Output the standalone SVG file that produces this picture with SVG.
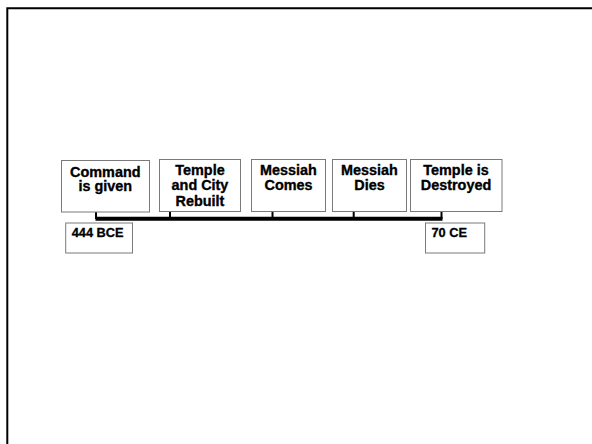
<svg xmlns="http://www.w3.org/2000/svg" width="592" height="444" viewBox="0 0 592 444">
<style>
.box{fill:#fff;stroke:#7a7a7a;stroke-width:1}
.t{font-family:"Liberation Sans",Arial,sans-serif;font-weight:bold;font-size:14.4px;fill:#000;stroke:#000;stroke-width:0.35;text-anchor:middle}
.l{font-family:"Liberation Sans",Arial,sans-serif;font-weight:bold;font-size:12.8px;fill:#000;stroke:#000;stroke-width:0.3}
.c{stroke:#000;fill:none}
</style>
<rect width="592" height="444" fill="#fff"/>
<path d="M7.3 444 V8.2 H592" fill="none" stroke="#000" stroke-width="2"/>
<g id="connectors">
<line class="c" x1="95.5" y1="218.7" x2="442.5" y2="218.7" stroke-width="4"/>
<line class="c" x1="96" y1="212" x2="96" y2="219" stroke-width="2"/>
<line class="c" x1="170" y1="211" x2="170" y2="219" stroke-width="2"/>
<line class="c" x1="272.5" y1="211" x2="272.5" y2="219" stroke-width="2"/>
<line class="c" x1="353.7" y1="211" x2="353.7" y2="219" stroke-width="2"/>
<line class="c" x1="441.5" y1="211" x2="441.5" y2="219" stroke-width="2"/>
</g>
<g id="n1">
<rect class="box" x="61.5" y="160.5" width="88" height="51.5"/>
<text class="t" x="105.3" y="176.5">Command</text>
<text class="t" x="105.3" y="191">is given</text>
</g>
<g id="n2">
<rect class="box" x="159.5" y="159.5" width="81" height="52"/>
<text class="t" x="200" y="175">Temple</text>
<text class="t" x="200" y="190">and City</text>
<text class="t" x="200" y="205.5">Rebuilt</text>
</g>
<g id="n3">
<rect class="box" x="251.5" y="159.5" width="74" height="52"/>
<text class="t" x="288.5" y="175">Messiah</text>
<text class="t" x="288.5" y="190">Comes</text>
</g>
<g id="n4">
<rect class="box" x="332.5" y="159.5" width="74" height="52"/>
<text class="t" x="369.5" y="175">Messiah</text>
<text class="t" x="369.5" y="190">Dies</text>
</g>
<g id="n5">
<rect class="box" x="410.5" y="159.5" width="91.5" height="52"/>
<text class="t" x="456" y="175">Temple is</text>
<text class="t" x="456" y="190">Destroyed</text>
</g>
<g id="d1">
<rect class="box" x="65.7" y="223" width="66.8" height="30"/>
<text class="l" x="71.7" y="236.7">444 BCE</text>
</g>
<g id="d2">
<rect class="box" x="425.5" y="223" width="59.2" height="30"/>
<text class="l" x="431.5" y="236.7">70 CE</text>
</g>
</svg>
